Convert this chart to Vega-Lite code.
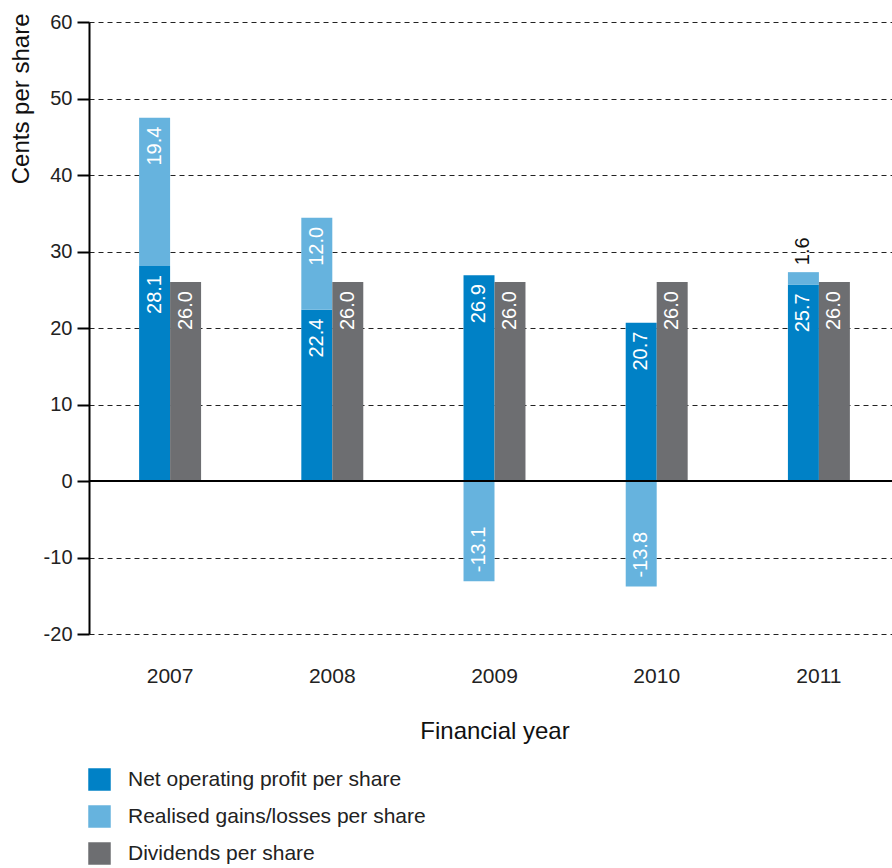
{
  "$schema": "https://vega.github.io/schema/vega-lite/v6.json",
  "autosize": "none",
  "width": 803,
  "height": 612,
  "padding": {"left": 89, "top": 22, "right": 0, "bottom": 234},
  "background": "white",
  "config": {
    "font": "Liberation Sans",
    "view": {"stroke": null},
    "axis": {"titleFontWeight": "normal", "labelColor": "#222", "titleColor": "#111"},
    "legend": {"labelColor": "#222"}
  },
  "data": {
    "values": [
      {"year": "2007", "series": "Net operating profit per share", "value": 28.1},
      {"year": "2007", "series": "Realised gains/losses per share", "value": 19.4},
      {"year": "2007", "series": "Dividends per share", "value": 26.0},
      {"year": "2008", "series": "Net operating profit per share", "value": 22.4},
      {"year": "2008", "series": "Realised gains/losses per share", "value": 12.0},
      {"year": "2008", "series": "Dividends per share", "value": 26.0},
      {"year": "2009", "series": "Net operating profit per share", "value": 26.9},
      {"year": "2009", "series": "Realised gains/losses per share", "value": -13.1},
      {"year": "2009", "series": "Dividends per share", "value": 26.0},
      {"year": "2010", "series": "Net operating profit per share", "value": 20.7},
      {"year": "2010", "series": "Realised gains/losses per share", "value": -13.8},
      {"year": "2010", "series": "Dividends per share", "value": 26.0},
      {"year": "2011", "series": "Net operating profit per share", "value": 25.7},
      {"year": "2011", "series": "Realised gains/losses per share", "value": 1.6},
      {"year": "2011", "series": "Dividends per share", "value": 26.0}
    ]
  },
  "transform": [
    {"calculate": "datum.series === 'Dividends per share' ? 'B' : 'A'", "as": "grp"},
    {"stack": "value", "groupby": ["year", "grp"], "sort": [{"field": "series", "order": "ascending"}], "as": ["v0", "v1"], "offset": "zero"},
    {"calculate": "replace(format(datum.value, '.1f'), '\u2212', '-')", "as": "lbl"}
  ],
  "encoding": {
    "x": {
      "field": "year",
      "type": "nominal",
      "scale": {"range": [0, 811], "paddingInner": 0.618, "paddingOuter": 0.309},
      "axis": {
        "title": "Financial year",
        "titleFontSize": 24,
        "titleBaseline": "alphabetic",
        "titleY": 104,
        "titleX": 405.5,
        "labelAngle": 0,
        "labelFontSize": 21,
        "labelBaseline": "alphabetic",
        "labelPadding": 48,
        "domain": false,
        "ticks": false,
        "grid": false
      }
    },
    "xOffset": {"field": "grp", "type": "nominal", "scale": {"paddingInner": 0, "paddingOuter": 0}}
  },
  "layer": [
    {
      "mark": {"type": "bar"},
      "encoding": {
        "y": {
          "field": "v0",
          "type": "quantitative",
          "scale": {"domain": [-20, 60], "nice": false, "zero": false},
          "axis": {
            "title": "Cents per share",
            "titleFontSize": 24,
            "titleAngle": 270,
            "titleAlign": "right",
            "titleBaseline": "alphabetic",
            "titleX": -61,
            "titleY": -9,
            "values": [-20, -10, 0, 10, 20, 30, 40, 50, 60],
            "labelExpr": "replace(datum.label, '\u2212', '-')",
            "labelFontSize": 20,
            "labelPadding": 5,
            "tickSize": 12,
            "tickWidth": 2,
            "tickColor": "#000",
            "domainColor": "#000",
            "domainWidth": 2,
            "grid": true,
            "gridDash": [5, 4],
            "gridColor": "#222",
            "gridWidth": 1
          }
        },
        "y2": {"field": "v1"},
        "color": {
          "field": "series",
          "type": "nominal",
          "scale": {
            "domain": ["Net operating profit per share", "Realised gains/losses per share", "Dividends per share"],
            "range": ["#0081c6", "#66b3de", "#6d6e71"]
          },
          "legend": {
            "title": null,
            "orient": "none",
            "legendX": -1,
            "legendY": 746,
            "direction": "vertical",
            "padding": 0,
            "symbolType": "square",
            "symbolSize": 506,
            "symbolStrokeWidth": 0,
            "symbolOpacity": 1,
            "labelFontSize": 21,
            "labelOffset": 17,
            "labelLimit": 0,
            "rowPadding": 14
          }
        }
      }
    },
    {
      "mark": {"type": "rule", "color": "#000", "strokeWidth": 1.6},
      "encoding": {"y": {"datum": 0}, "x": null, "xOffset": null}
    },
    {
      "transform": [{"filter": "datum.value >= 5"}],
      "mark": {"type": "text", "angle": 270, "align": "right", "baseline": "middle", "dx": -9, "fontSize": 20, "color": "white"},
      "encoding": {"y": {"field": "v1", "type": "quantitative"}, "text": {"field": "lbl"}}
    },
    {
      "transform": [{"filter": "datum.value < 0"}],
      "mark": {"type": "text", "angle": 270, "align": "left", "baseline": "middle", "dx": 9, "fontSize": 20, "color": "white"},
      "encoding": {"y": {"field": "v1", "type": "quantitative"}, "text": {"field": "lbl"}}
    },
    {
      "transform": [{"filter": "datum.value >= 0 && datum.value < 5"}],
      "mark": {"type": "text", "angle": 270, "align": "left", "baseline": "middle", "dx": 7, "fontSize": 20, "color": "#111"},
      "encoding": {"y": {"field": "v1", "type": "quantitative"}, "text": {"field": "lbl"}}
    }
  ]
}
